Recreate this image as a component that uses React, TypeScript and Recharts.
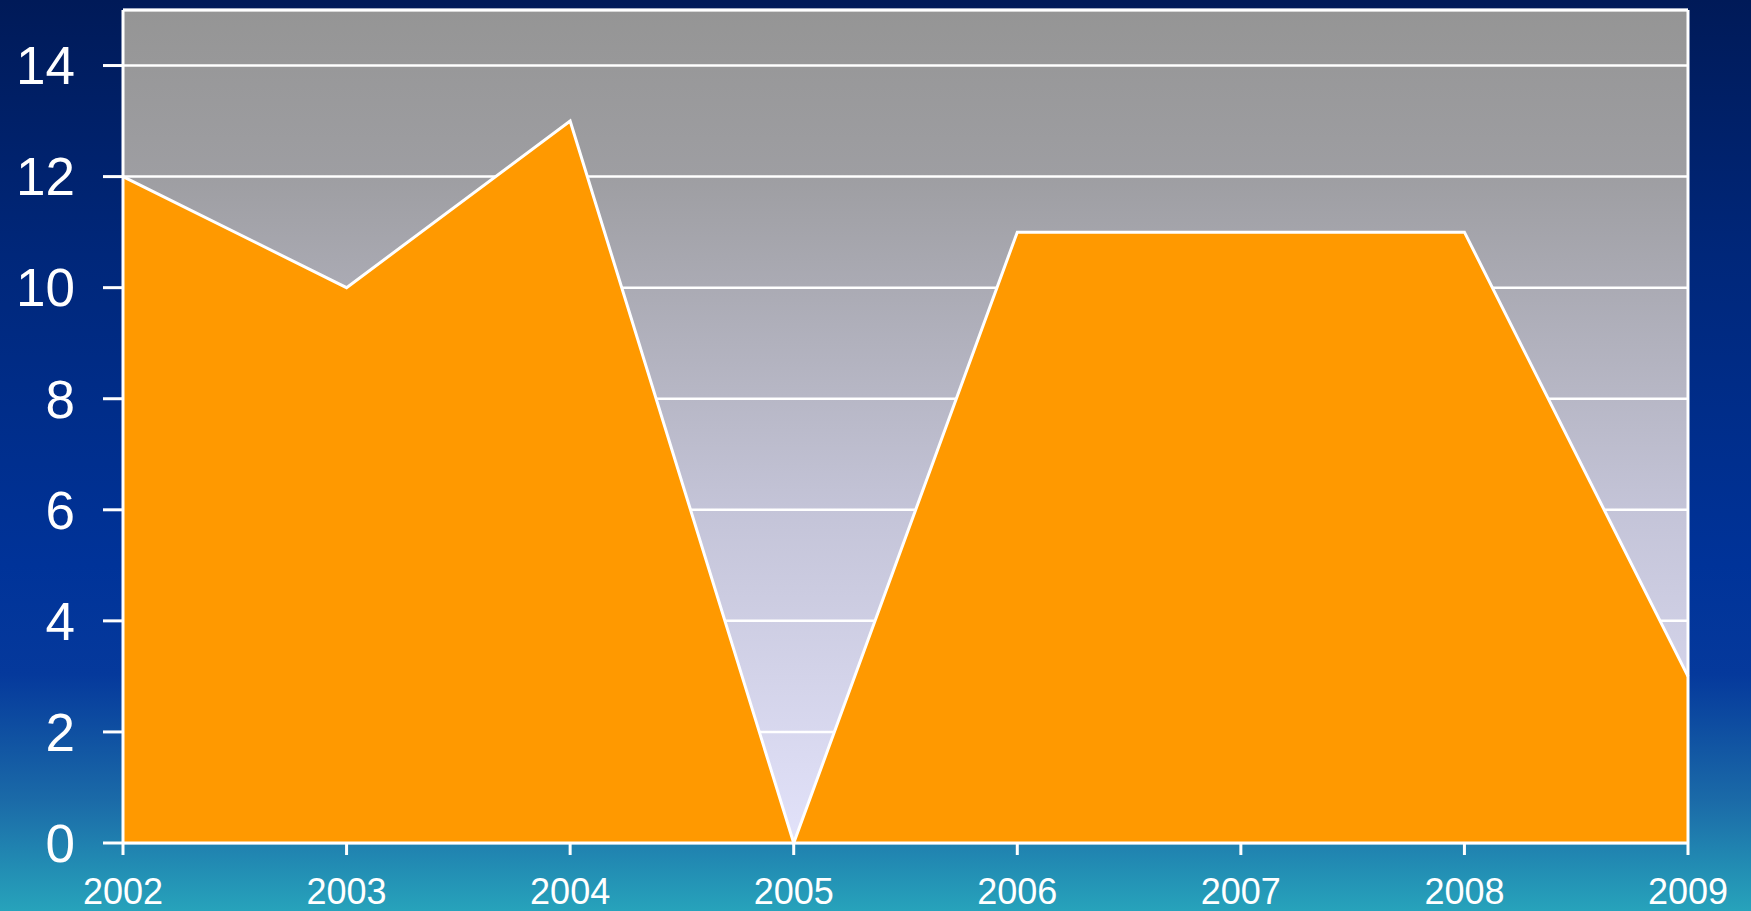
import {
  AreaChart,
  Area,
  XAxis,
  YAxis,
  CartesianGrid,
  ReferenceLine,
} from "recharts";

const years = [2002, 2003, 2004, 2005, 2006, 2007, 2008, 2009];
const values = [12, 10, 13, 0, 11, 11, 11, 3];
const yTicks = [0, 2, 4, 6, 8, 10, 12, 14];

const data = years.map((year, i) => ({ year, value: values[i] }));

function App() {
  return (
    <div
      style={{
        position: "fixed",
        left: 0,
        top: 0,
        width: 1751,
        height: 911,
        background:
          "linear-gradient(to bottom, #001a58 0%, #00277a 28%, #003399 62%, #05399c 74%, #1b6ba8 88%, #27a3bb 100%)",
        fontFamily: "'Liberation Sans', Arial, sans-serif",
      }}
    >
      <AreaChart
        width={1751}
        height={911}
        data={data}
        margin={{ top: 10, right: 63, bottom: 0, left: 0 }}
      >
        <defs>
          <linearGradient id="plotBg" x1="0" y1="0" x2="0" y2="1">
            <stop offset="0%" stopColor="#959595" />
            <stop offset="20%" stopColor="#9e9ea2" />
            <stop offset="60%" stopColor="#c4c4d8" />
            <stop offset="100%" stopColor="#e2e2fa" />
          </linearGradient>
        </defs>
        <CartesianGrid
          vertical={false}
          stroke="#ffffff"
          strokeWidth={2.5}
          fill="url(#plotBg)"
          fillOpacity={1}
        />
        <XAxis
          dataKey="year"
          type="number"
          domain={[2002, 2009]}
          ticks={years}
          height={68}
          axisLine={{ stroke: "#ffffff", strokeWidth: 3 }}
          tickLine={{ stroke: "#ffffff", strokeWidth: 3 }}
          tickSize={12}
          tickMargin={23}
          tick={{ fill: "#ffffff", fontSize: 36 }}
          interval={0}
        />
        <YAxis
          domain={[0, 15]}
          ticks={yTicks}
          width={123}
          axisLine={{ stroke: "#ffffff", strokeWidth: 3 }}
          tickLine={{ stroke: "#ffffff", strokeWidth: 3 }}
          tickSize={20}
          tickMargin={28}
          tick={{ fill: "#ffffff", fontSize: 53 }}
          interval={0}
        />
        <Area
          type="linear"
          dataKey="value"
          fill="#ff9900"
          fillOpacity={1}
          stroke="#ffffff"
          strokeWidth={3}
          isAnimationActive={false}
        />
        <ReferenceLine y={15} stroke="#ffffff" strokeWidth={3} />
        <ReferenceLine x={2009} stroke="#ffffff" strokeWidth={3} />
      </AreaChart>
    </div>
  );
}

export default App;
